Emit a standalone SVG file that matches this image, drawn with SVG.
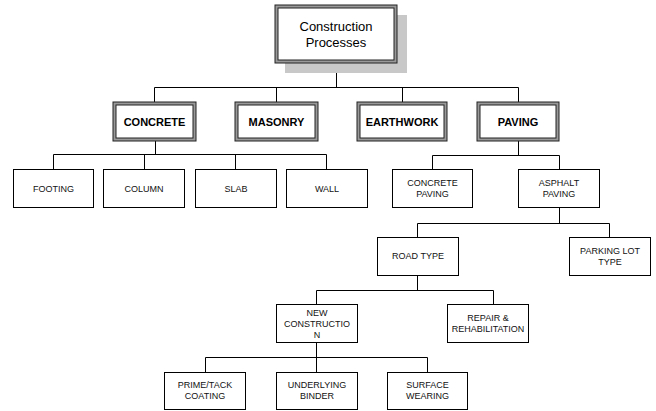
<svg xmlns="http://www.w3.org/2000/svg" width="656" height="411" viewBox="0 0 656 411">
<style>
.leaf rect{fill:#fff;stroke:#000;stroke-width:1}
.leaf text{font-family:"Liberation Sans",Arial,sans-serif;font-size:9px;fill:#111;text-anchor:middle}
.main text{font-family:"Liberation Sans",Arial,sans-serif;font-size:11px;font-weight:bold;fill:#000;text-anchor:middle}
.band{fill:#fff;stroke:#999;stroke-width:3}
.edge{fill:none;stroke:#222;stroke-width:1}
#conn path{fill:none;stroke:#000;stroke-width:1}
</style>
<rect width="656" height="411" fill="#fff"/>
<g id="conn">
<path d="M336.5 63V87.5M154.5 87.5H518.5M154.5 87.5V102M276.5 87.5V102M402.5 87.5V102M518.5 87.5V102"/>
<path d="M155.5 141V154.5M53.5 154.5H326.5M53.5 154.5V169M144.5 154.5V169M235.5 154.5V169M326.5 154.5V169"/>
<path d="M518.5 140V155.5M432.5 155.5H559.5M432.5 155.5V169M559.5 155.5V169"/>
<path d="M559.5 208V223.5M417.5 223.5H609.5M417.5 223.5V237M609.5 223.5V237"/>
<path d="M417.5 275V290.5M316.5 290.5H493.5M316.5 290.5V304M493.5 290.5V304"/>
<path d="M316.5 343V357.5M205.5 357.5H427.5M205.5 357.5V372M316.5 357.5V372M427.5 357.5V372"/>
</g>
<g id="root" class="main">
<rect x="285" y="15" width="122" height="58" fill="#c8c8c8"/>
<rect x="276.5" y="6.5" width="119" height="55" class="band"/>
<rect x="275" y="5" width="122" height="58" class="edge"/>
<rect x="278" y="8" width="116" height="52" class="edge"/>
<text x="336" y="31" style="font-weight:normal;font-size:13px">Construction</text>
<text x="336" y="47" style="font-weight:normal;font-size:13px">Processes</text>
</g>
<g id="concrete" class="main">
<rect x="114.5" y="103.5" width="80" height="36" class="band"/>
<rect x="113" y="102" width="83" height="39" class="edge"/>
<rect x="116" y="105" width="77" height="33" class="edge"/>
<text x="154.5" y="125.5">CONCRETE</text>
</g>
<g id="masonry" class="main">
<rect x="236.5" y="103.5" width="80" height="36" class="band"/>
<rect x="235" y="102" width="83" height="39" class="edge"/>
<rect x="238" y="105" width="77" height="33" class="edge"/>
<text x="276.5" y="125.5">MASONRY</text>
</g>
<g id="earthwork" class="main">
<rect x="358.5" y="103.5" width="87" height="36" class="band"/>
<rect x="357" y="102" width="90" height="39" class="edge"/>
<rect x="360" y="105" width="84" height="33" class="edge"/>
<text x="402" y="125.5">EARTHWORK</text>
</g>
<g id="paving" class="main">
<rect x="478.5" y="103.5" width="79" height="36" class="band"/>
<rect x="477" y="102" width="82" height="39" class="edge"/>
<rect x="480" y="105" width="76" height="33" class="edge"/>
<text x="518" y="125.5">PAVING</text>
</g>
<g id="footing" class="leaf"><rect x="13.5" y="169.5" width="80" height="38"/><text x="53.5" y="192">FOOTING</text></g>
<g id="column" class="leaf"><rect x="103.5" y="169.5" width="81" height="38"/><text x="144" y="192">COLUMN</text></g>
<g id="slab" class="leaf"><rect x="195.5" y="169.5" width="81" height="38"/><text x="236" y="192">SLAB</text></g>
<g id="wall" class="leaf"><rect x="286.5" y="169.5" width="81" height="38"/><text x="327" y="192">WALL</text></g>
<g id="concrete-paving" class="leaf"><rect x="392.5" y="169.5" width="80" height="38"/><text x="432.5" y="186">CONCRETE</text><text x="432.5" y="197">PAVING</text></g>
<g id="asphalt-paving" class="leaf"><rect x="518.5" y="169.5" width="81" height="38"/><text x="559" y="186">ASPHALT</text><text x="559" y="197">PAVING</text></g>
<g id="road-type" class="leaf"><rect x="377.5" y="237.5" width="81" height="38"/><text x="418" y="259">ROAD TYPE</text></g>
<g id="parking-lot-type" class="leaf"><rect x="569.5" y="237.5" width="81" height="38"/><text x="610" y="254">PARKING LOT</text><text x="610" y="265">TYPE</text></g>
<g id="new-construction" class="leaf"><rect x="276.5" y="304.5" width="81" height="38"/><text x="317" y="316">NEW</text><text x="317" y="327">CONSTRUCTIO</text><text x="317" y="337.5">N</text></g>
<g id="repair" class="leaf"><rect x="447.5" y="304.5" width="81" height="38"/><text x="488" y="320.5">REPAIR &amp;</text><text x="488" y="331.5">REHABILITATION</text></g>
<g id="prime-tack" class="leaf"><rect x="164.5" y="372.5" width="81" height="37"/><text x="205" y="388">PRIME/TACK</text><text x="205" y="399">COATING</text></g>
<g id="underlying" class="leaf"><rect x="276.5" y="372.5" width="81" height="37"/><text x="317" y="388">UNDERLYING</text><text x="317" y="399">BINDER</text></g>
<g id="surface" class="leaf"><rect x="387.5" y="372.5" width="80" height="37"/><text x="427.5" y="388">SURFACE</text><text x="427.5" y="399">WEARING</text></g>
</svg>
